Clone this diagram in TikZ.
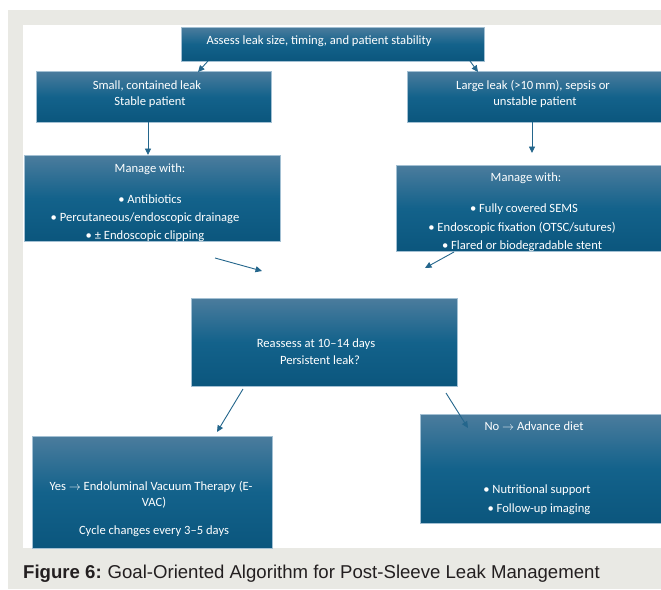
\documentclass[tikz,border=0pt]{standalone}
\usepackage{fontspec}
\setmainfont{Carlito}
\newfontfamily\capfont{Liberation Sans}
\usetikzlibrary{arrows.meta}
\definecolor{bggray}{HTML}{E9E9E4}
\definecolor{btop}{HTML}{4B7C9D}
\definecolor{bmid}{HTML}{13628B}
\definecolor{bbot}{HTML}{0B567D}
\definecolor{bline}{HTML}{A3C0D3}
\definecolor{arr}{HTML}{24668C}
\definecolor{captext}{HTML}{231F20}
\newcommand{\rar}{$\rightarrow$}
\begin{document}
\begin{tikzpicture}[x=1pt,y=-1pt,
  box/.style={shade, top color=btop, bottom color=bbot, middle color=bmid,
    draw=bline, line width=0.6pt, anchor=north west, inner sep=0pt},
  txt/.style={text=white, font=\fontsize{12.6}{15}\selectfont, inner sep=0pt, anchor=base},
  conn/.style={draw=arr, line width=0.9pt, -{Triangle[length=6.5pt,width=6pt]}}]
\useasboundingbox (0,0) rectangle (661,589);
\fill[bggray] (8,10) rectangle (661,589);
\fill[white] (23,25) rectangle (661,548);
% boxes
\node[box, minimum width=303pt, minimum height=34pt] (b1) at (181,27) {};
\node[box, minimum width=235pt, minimum height=51pt] (b2) at (36,71) {};
\node[box, minimum width=254pt, minimum height=51pt] (b3) at (407,71) {};
\node[box, minimum width=256pt, minimum height=86pt] (b4) at (24,155) {};
\node[box, minimum width=265pt, minimum height=86pt] (b5) at (396,165) {};
\node[box, minimum width=266pt, minimum height=88pt] (b6) at (191,298) {};
\node[box, minimum width=240pt, minimum height=112pt] (b7) at (32,436) {};
\node[box, minimum width=241pt, minimum height=109pt] (b8) at (420,414) {};
% texts
\node[txt] (t1) at (319,44) {Assess leak size, timing, and patient stability};
\node[txt] (t2a) at (147,89) {Small, contained leak};
\node[txt] (t2b) at (150,105) {Stable patient};
\node[txt] (t3a) at (533,89) {Large leak (>10\,mm), sepsis or};
\node[txt] (t3b) at (535,105) {unstable patient};
\node[txt] (t4a) at (150,172) {Manage with:};
\node[txt] (t4b) at (150,203) {• Antibiotics};
\node[txt] (t4c) at (145,221) {• Percutaneous/endoscopic drainage};
\node[txt] (t4d) at (145,239) {• ± Endoscopic clipping};
\node[txt] (t5a) at (526,181) {Manage with:};
\node[txt] (t5b) at (524,212) {• Fully covered SEMS};
\node[txt] (t5c) at (522,231) {• Endoscopic fixation (OTSC/sutures)};
\node[txt] (t5d) at (522,249) {• Flared or biodegradable stent};
\node[txt] (t6a) at (316,347) {Reassess at 10–14 days};
\node[txt] (t6b) at (320,364) {Persistent leak?};
\node[txt] (t7a) at (151,490) {Yes \rar{} Endoluminal Vacuum Therapy (E-};
\node[txt] (t7b) at (154,506) {VAC)};
\node[txt] (t7c) at (154,534) {Cycle changes every 3–5 days};
\node[txt] (t8a) at (534,430) {No \rar{} Advance diet};
\node[txt] (t8b) at (537,493) {• Nutritional support};
\node[txt] (t8c) at (539,512) {• Follow-up imaging};
% arrow end points
\coordinate (a1s) at (208,61);  \coordinate (a1e) at (198,72);
\coordinate (a2s) at (470,61);  \coordinate (a2e) at (478,72);
\coordinate (a3s) at (148,122); \coordinate (a3e) at (148,155);
\coordinate (a4s) at (532,122); \coordinate (a4e) at (532,153);
\coordinate (a5s) at (215,258); \coordinate (a5e) at (262,271);
\coordinate (a6s) at (454,252); \coordinate (a6e) at (425,268);
\coordinate (a7s) at (243,389); \coordinate (a7e) at (217,432);
\coordinate (a8s) at (446,393); \coordinate (a8e) at (468,428);
\draw[conn] (a1s) -- (a1e);
\draw[conn] (a2s) -- (a2e);
\draw[conn] (a3s) -- (a3e);
\draw[conn] (a4s) -- (a4e);
\draw[conn] (a5s) -- (a5e);
\draw[conn] (a6s) -- (a6e);
\draw[conn] (a7s) -- (a7e);
\draw[conn] (a8s) -- (a8e);
% caption
\node[anchor=base west, inner sep=0pt, text=captext, font=\capfont\fontsize{18.6}{22}\selectfont] (cap) at (23,578)
  {\textbf{Figure 6:}\hspace{-1pt} Goal-Oriented Algorithm for Post-Sleeve Leak Management};
\end{tikzpicture}
\end{document}
